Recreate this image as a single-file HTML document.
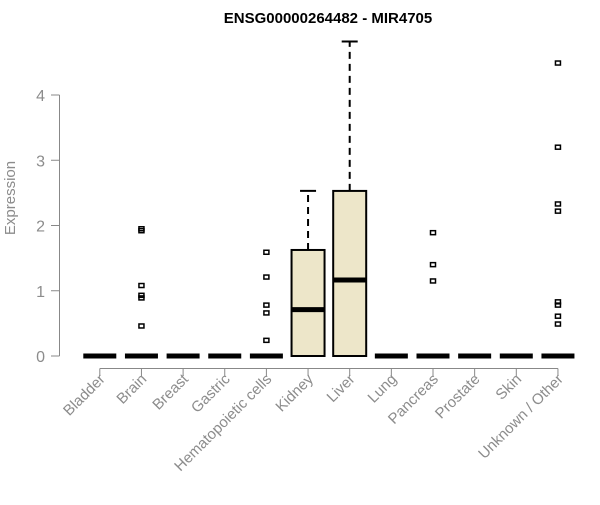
<!DOCTYPE html>
<html><head><meta charset="utf-8"><style>
body{margin:0;background:#fff;}
svg text{font-family:"Liberation Sans",Arial,sans-serif;}
</style></head><body>
<svg id="chart" width="600" height="500" xmlns="http://www.w3.org/2000/svg">
<text x="328" y="23" text-anchor="middle" font-size="15" font-weight="bold">ENSG00000264482 - MIR4705</text>
<text transform="translate(15,198) rotate(-90)" text-anchor="middle" font-size="15" fill="#8c8c8c">Expression</text>
<g id="yaxis"></g>
<g id="xaxis"></g>
<g id="plot"></g>
</svg>
<script>
const categories=["Bladder","Brain","Breast","Gastric","Hematopoietic cells","Kidney","Liver","Lung","Pancreas","Prostate","Skin","Unknown / Other"];
const q1=[0,0,0,0,0,0,0,0,0,0,0,0];
const medians=[0,0,0,0,0,0.71,1.165,0,0,0,0,0];
const q3=[0,0,0,0,0,1.625,2.53,0,0,0,0,0];
const whiskerHi=[0,0,0,0,0,2.53,4.82,0,0,0,0,0];
const outliers=[[],[1.92,1.95,1.08,0.93,0.89,0.46],[],[],[1.59,1.21,0.78,0.66,0.24],[],[],[],[1.89,1.40,1.15],[],[],[4.49,3.20,2.33,2.22,0.83,0.78,0.61,0.49]];
const yTicks=[0,1,2,3,4];
const NS="http://www.w3.org/2000/svg";
const y=v=>356-v*65.25;
const x=i=>99.8+i*41.65;
function mk(tag,attrs,parent){const e=document.createElementNS(NS,tag);for(const k in attrs)e.setAttribute(k,attrs[k]);parent.appendChild(e);return e;}
const ya=document.getElementById('yaxis'),xa=document.getElementById('xaxis'),pl=document.getElementById('plot');
mk('line',{x1:59.5,x2:59.5,y1:y(0),y2:y(4),stroke:'#888'},ya);
yTicks.forEach(t=>{
 const l=mk('line',{x1:51,x2:59.5,y1:y(t),y2:y(t),stroke:'#888'},ya);
 
 
 const tx=mk('text',{x:45,y:y(t)+6,'text-anchor':'end','font-size':'16',fill:'#8c8c8c'},ya);
 tx.textContent=t;
 
 
});
mk('line',{x1:x(0),x2:x(11),y1:368.5,y2:368.5,stroke:'#888'},xa);
categories.forEach((c,i)=>{
 const cx=x(i);
 const tk=mk('line',{x1:cx,x2:cx,y1:368.5,y2:376,stroke:'#888'},xa);
 
 
 const tx=mk('text',{transform:`translate(${cx+6},${380}) rotate(-45)`,'text-anchor':'end','font-size':'15',fill:'#8c8c8c'},xa);
 tx.textContent=c;
 
 
 const g=mk('g',{},pl);
 
 
 const w=33;
 if(whiskerHi[i]>q3[i]){
  mk('line',{x1:cx,x2:cx,y1:y(q3[i]),y2:y(whiskerHi[i]),stroke:'#000','stroke-width':2,'stroke-dasharray':'7,5'},g);
  mk('line',{x1:cx-8,x2:cx+8,y1:y(whiskerHi[i]),y2:y(whiskerHi[i]),stroke:'#000','stroke-width':2},g);
 }
 if(q3[i]>q1[i]){
  mk('rect',{x:cx-w/2,y:y(q3[i]),width:w,height:y(q1[i])-y(q3[i]),fill:'#ede6c9',stroke:'#000','stroke-width':2},g);
 }
 mk('line',{x1:cx-w/2,x2:cx+w/2,y1:y(medians[i]),y2:y(medians[i]),stroke:'#000','stroke-width':5},g);
 outliers[i].forEach(v=>{
  const p=mk('rect',{x:cx-2.5,y:y(v)-2,width:5,height:4,fill:'none',stroke:'#000','stroke-width':1.5},g);
  
  
 });
});
</script>
</body></html>
